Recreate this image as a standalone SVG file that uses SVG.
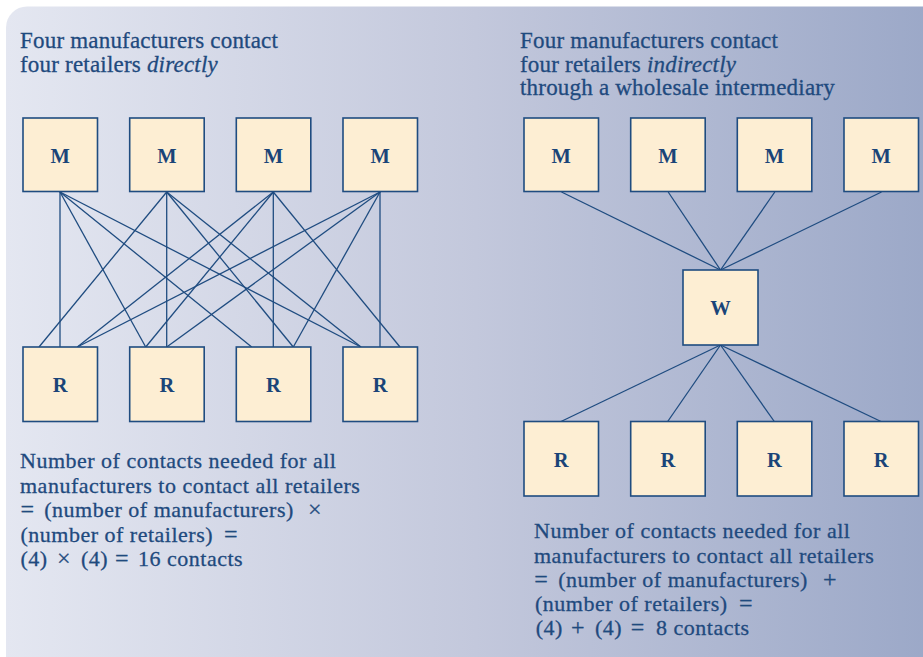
<svg xmlns="http://www.w3.org/2000/svg" width="923" height="657" viewBox="0 0 923 657">
  <defs>
    <linearGradient id="bg" x1="0" y1="0" x2="1" y2="0">
      <stop offset="0" stop-color="#e4e7f1"/>
      <stop offset="0.5" stop-color="#c3c8dc"/>
      <stop offset="1" stop-color="#9aa7c7"/>
    </linearGradient>
  </defs>
  <style>
    .box { fill: #fdeed3; stroke: #1f4c80; stroke-width: 1.6; }
    .lbl { font-weight: bold; font-size: 20.5px; fill: #1a4478; text-anchor: middle; }
    .title { font-size: 23px; letter-spacing: 0.2px; fill: #1f4a7e; stroke: #1f4a7e; stroke-width: 0.3px; }
    .txt { font-size: 22px; letter-spacing: 0.5px; fill: #1f4a7e; stroke: #1f4a7e; stroke-width: 0.3px; }
    .op { font-size: 24px; }
    .conn line { stroke: #1f4c80; stroke-width: 1.3; }
  </style>

  <rect x="6" y="6.5" width="940" height="670" rx="21" ry="21" fill="url(#bg)"/>

  <g font-family="Liberation Serif, Tinos, Times New Roman, serif">
  <!-- Titles -->
  <g id="title-left">
    <text class="title" x="20" y="47.5">Four manufacturers contact</text>
    <text class="title" x="20" y="71.5">four retailers <tspan font-style="italic">directly</tspan></text>
  </g>
  <g id="title-right">
    <text class="title" x="520" y="47.5">Four manufacturers contact</text>
    <text class="title" x="520" y="71.5">four retailers <tspan font-style="italic">indirectly</tspan></text>
    <text class="title" x="520" y="95">through a wholesale intermediary</text>
  </g>

  <!-- Connectors -->
  <g id="connectors" class="conn">
    <line x1="60" y1="192" x2="60" y2="347"/>
    <line x1="60" y1="192" x2="145.7" y2="347"/>
    <line x1="60" y1="192" x2="251.7" y2="347"/>
    <line x1="60" y1="192" x2="361" y2="347"/>
    <line x1="166.7" y1="192" x2="39" y2="347"/>
    <line x1="166.7" y1="192" x2="166.7" y2="347"/>
    <line x1="166.7" y1="192" x2="293.3" y2="347"/>
    <line x1="166.7" y1="192" x2="361" y2="347"/>
    <line x1="273.3" y1="192" x2="77.3" y2="347"/>
    <line x1="273.3" y1="192" x2="145.7" y2="347"/>
    <line x1="273.3" y1="192" x2="273.3" y2="347"/>
    <line x1="273.3" y1="192" x2="400" y2="347"/>
    <line x1="380" y1="192" x2="77.3" y2="347"/>
    <line x1="380" y1="192" x2="166.7" y2="347"/>
    <line x1="380" y1="192" x2="293.3" y2="347"/>
    <line x1="380" y1="192" x2="380" y2="347"/>
    <line x1="561.5" y1="192" x2="720.5" y2="270"/>
    <line x1="668.2" y1="192" x2="720.5" y2="270"/>
    <line x1="774.8" y1="192" x2="720.5" y2="270"/>
    <line x1="881.5" y1="192" x2="720.5" y2="270"/>
    <line x1="720.5" y1="345" x2="561" y2="421.5"/>
    <line x1="720.5" y1="345" x2="667.7" y2="421.5"/>
    <line x1="720.5" y1="345" x2="774.3" y2="421.5"/>
    <line x1="720.5" y1="345" x2="881" y2="421.5"/>
  </g>

  <!-- Left nodes -->
  <g id="lm1"><rect class="box" x="23" y="118" width="74.5" height="73.5"/><text class="lbl" x="60.2" y="163">M</text></g>
  <g id="lm2"><rect class="box" x="129.7" y="118" width="74.5" height="73.5"/><text class="lbl" x="166.9" y="163">M</text></g>
  <g id="lm3"><rect class="box" x="236.3" y="118" width="74.5" height="73.5"/><text class="lbl" x="273.5" y="163">M</text></g>
  <g id="lm4"><rect class="box" x="343" y="118" width="74.5" height="73.5"/><text class="lbl" x="380.2" y="163">M</text></g>
  <g id="lr1"><rect class="box" x="23" y="347" width="74.5" height="74.5"/><text class="lbl" x="60.2" y="392">R</text></g>
  <g id="lr2"><rect class="box" x="129.7" y="347" width="74.5" height="74.5"/><text class="lbl" x="166.9" y="392">R</text></g>
  <g id="lr3"><rect class="box" x="236.3" y="347" width="74.5" height="74.5"/><text class="lbl" x="273.5" y="392">R</text></g>
  <g id="lr4"><rect class="box" x="343" y="347" width="74.5" height="74.5"/><text class="lbl" x="380.2" y="392">R</text></g>

  <!-- Right nodes -->
  <g id="rm1"><rect class="box" x="524" y="118" width="74.5" height="73.5"/><text class="lbl" x="561.2" y="163">M</text></g>
  <g id="rm2"><rect class="box" x="630.7" y="118" width="74.5" height="73.5"/><text class="lbl" x="667.9" y="163">M</text></g>
  <g id="rm3"><rect class="box" x="737.3" y="118" width="74.5" height="73.5"/><text class="lbl" x="774.5" y="163">M</text></g>
  <g id="rm4"><rect class="box" x="844" y="118" width="74.5" height="73.5"/><text class="lbl" x="881.2" y="163">M</text></g>
  <g id="rw"><rect class="box" x="683" y="270" width="75" height="75"/><text class="lbl" x="720.5" y="315">W</text></g>
  <g id="rr1"><rect class="box" x="524" y="421.5" width="74.5" height="74.5"/><text class="lbl" x="561.2" y="466.5">R</text></g>
  <g id="rr2"><rect class="box" x="630.7" y="421.5" width="74.5" height="74.5"/><text class="lbl" x="667.9" y="466.5">R</text></g>
  <g id="rr3"><rect class="box" x="737.3" y="421.5" width="74.5" height="74.5"/><text class="lbl" x="774.5" y="466.5">R</text></g>
  <g id="rr4"><rect class="box" x="844" y="421.5" width="74.5" height="74.5"/><text class="lbl" x="881.2" y="466.5">R</text></g>

  <!-- Formulas -->
  <g id="formula-left">
    <text class="txt" x="20" y="468.3">Number of contacts needed for all</text>
    <text class="txt" x="20" y="492.7">manufacturers to contact all retailers</text>
    <text class="txt" y="517"><tspan class="op" x="20.5">= </tspan><tspan x="44.3">(number of manufacturers) </tspan><tspan class="op" x="308">×</tspan></text>
    <text class="txt" y="541.5"><tspan x="20.5">(number of retailers) </tspan><tspan class="op" x="224">=</tspan></text>
    <text class="txt" y="566"><tspan x="20.5">(4) </tspan><tspan class="op" x="57">× </tspan><tspan x="81">(4) </tspan><tspan class="op" x="115">= </tspan><tspan x="138">16 contacts</tspan></text>
  </g>
  <g id="formula-right">
    <text class="txt" x="534" y="538.3">Number of contacts needed for all</text>
    <text class="txt" x="534" y="562.7">manufacturers to contact all retailers</text>
    <text class="txt" y="587"><tspan class="op" x="534.3">= </tspan><tspan x="558.3">(number of manufacturers) </tspan><tspan class="op" x="823">+</tspan></text>
    <text class="txt" y="611"><tspan x="535">(number of retailers) </tspan><tspan class="op" x="739">=</tspan></text>
    <text class="txt" y="635"><tspan x="535.7">(4) </tspan><tspan class="op" x="571">+ </tspan><tspan x="595">(4) </tspan><tspan class="op" x="630.7">= </tspan><tspan x="656">8 contacts</tspan></text>
  </g>
  </g>
</svg>
